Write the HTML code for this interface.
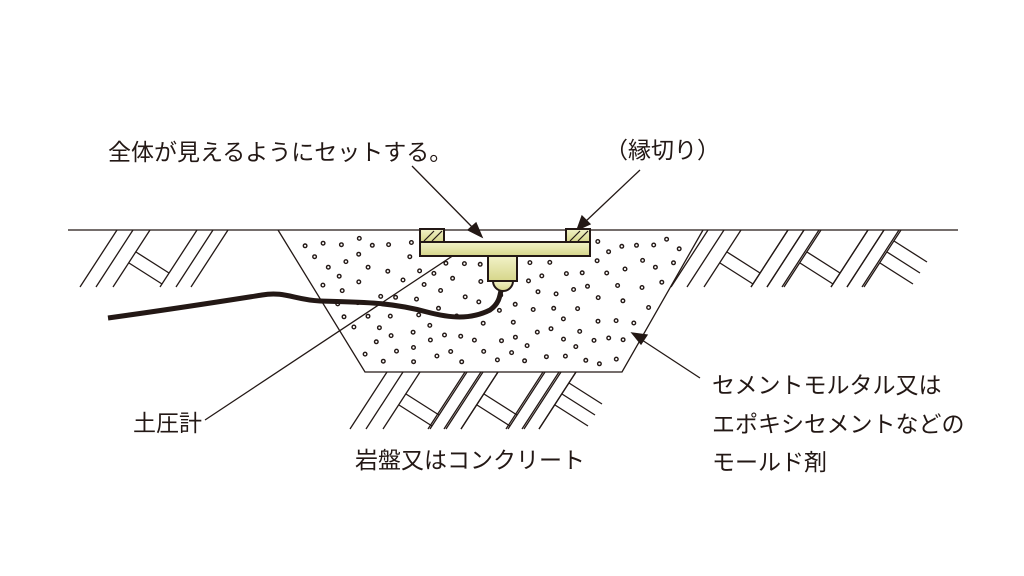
<!DOCTYPE html>
<html><head><meta charset="utf-8"><style>
html,body{margin:0;padding:0;background:#fff;}
svg{display:block}
text{font-family:"Liberation Sans","Noto Sans CJK JP",sans-serif;font-size:23px;fill:#231815;}
</style></head><body>
<svg id="s" width="1024" height="576" viewBox="0 0 1024 576" xmlns="http://www.w3.org/2000/svg">
<defs>
<linearGradient id="g" x1="0" y1="0" x2="0" y2="1">
<stop offset="0" stop-color="#f2f2c8"/><stop offset="1" stop-color="#d6d68a"/></linearGradient>
<g id="u" stroke="#231815" stroke-width="1.3" fill="none">
<line x1="0" y1="0" x2="-37" y2="57"/>
<line x1="16" y1="0" x2="-21" y2="57"/>
<line x1="33" y1="0" x2="-4" y2="57"/>
<line x1="80" y1="0" x2="43" y2="57"/>
<line x1="96" y1="0" x2="59" y2="57"/>
<line x1="111" y1="0" x2="74" y2="57"/>
<line x1="19" y1="22" x2="52" y2="43"/>
<line x1="12" y1="33" x2="45" y2="54"/>
</g>
<g id="v" stroke="#231815" stroke-width="1.3" fill="none">
<line x1="0" y1="0" x2="-37" y2="57"/>
<line x1="16" y1="0" x2="-21" y2="57"/>
<line x1="33" y1="0" x2="-4" y2="57"/>
<line x1="19" y1="22" x2="52" y2="43"/>
<line x1="12" y1="33" x2="45" y2="54"/>
<line x1="26" y1="11" x2="59" y2="32"/>
</g>
<clipPath id="cl"><rect x="660" y="230" width="300" height="58"/></clipPath>
<clipPath id="cb"><rect x="330" y="372" width="330" height="58"/></clipPath>
</defs>
<line x1="68" y1="230" x2="958" y2="230" stroke="#231815" stroke-width="1.3"/>
<use href="#u" x="117" y="230"/>
<g clip-path="url(#cl)"><use href="#u" x="708" y="230"/><use href="#u" x="788" y="230"/><use href="#v" x="868" y="230"/></g>
<g clip-path="url(#cb)"><use href="#u" x="387" y="372"/><use href="#u" x="465" y="372"/><use href="#v" x="543" y="372"/></g>
<polyline points="278,230 365,372 622,372 703,230" fill="none" stroke="#231815" stroke-width="1.3"/>
<g id="dots" fill="none" stroke="#231815" stroke-width="1.4"></g>
<g stroke="#231815" stroke-width="1.3" fill="#231815">
<line x1="412" y1="166" x2="474" y2="229"/><polygon points="482,237 468,230 476,223"/>
<line x1="640" y1="170" x2="585" y2="222"/><polygon points="577,230 582,216 590,224"/>
<line x1="205" y1="420" x2="463" y2="249" fill="none"/>
<line x1="700" y1="378" x2="642" y2="340"/><polygon points="632,333 647,335 641,344"/>
</g>
<path d="M108,318 C180,308 230,300 262,295 C285,291 295,300 320,301 C360,302 390,302 427,312 C450,318 470,320 490,310 C500,303 500,295 502,285" fill="none" stroke="#231815" stroke-width="5"/>
<g stroke="#231815" stroke-width="2" fill="url(#g)">
<path d="M493,281 A10,10 0 0 0 513,281 Z"/>
<rect x="488" y="256" width="29" height="25"/>
<rect x="420" y="242" width="170" height="14"/>
<rect x="420" y="229" width="24" height="13"/>
<rect x="566" y="229" width="24" height="13"/>
</g>
<g stroke="#231815" stroke-width="1.2">
<line x1="424" y1="241" x2="434" y2="231"/><line x1="432" y1="241" x2="442" y2="231"/>
<line x1="570" y1="241" x2="580" y2="231"/><line x1="578" y1="241" x2="588" y2="231"/>
</g>
<text x="108" y="160">全体が見えるようにセットする。</text>
<text x="605" y="158">（縁切り）</text>
<text x="133" y="431">土圧計</text>
<text x="355" y="468">岩盤又はコンクリート</text>
<text x="712" y="393">セメントモルタル又は</text>
<text x="712" y="432">エポキシセメントなどの</text>
<text x="712" y="470">モールド剤</text>
</svg>
<script>
(function(){
var g=document.getElementById('dots'),s=98765,pts=[];
function r(){s=(s*1103515245+12345)%2147483648;return s/2147483648;}
var t=0;
while(pts.length<120&&t<20000){t++;
var y=238+r()*126,x=290+r()*405;
var f=(y-230)/142;var xl=278+87*f+10,xr=703-81*f-10;
if(x<xl||x>xr)continue;
if(x>414&&x<596&&y<262)continue;
if(x>484&&x<522&&y<294)continue;
var ok=true;for(var i=0;i<pts.length;i++){var dx=pts[i][0]-x,dy=pts[i][1]-y;if(dx*dx+dy*dy<196){ok=false;break;}}
if(!ok)continue;
pts.push([x,y]);
var c=document.createElementNS('http://www.w3.org/2000/svg','circle');
c.setAttribute('cx',x.toFixed(1));c.setAttribute('cy',y.toFixed(1));c.setAttribute('r','1.8');
g.appendChild(c);}
})();
</script>
</body></html>
